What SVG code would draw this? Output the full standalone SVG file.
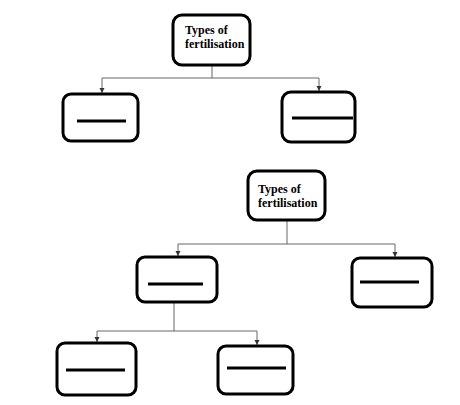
<svg xmlns="http://www.w3.org/2000/svg" width="460" height="405" viewBox="0 0 460 405">
<defs>
<style>
.box{fill:#fff;stroke:#000;stroke-width:3;}
.bar{stroke:#000;stroke-width:3;stroke-linecap:butt;}
.lbl{font-family:"Liberation Serif","Times New Roman",serif;font-weight:bold;font-size:12px;fill:#000;}
.con{fill:none;stroke:#666;stroke-width:1;}
</style>
<marker id="ah" markerWidth="6" markerHeight="6" refX="5" refY="3" orient="auto" markerUnits="userSpaceOnUse">
<path d="M0,0.5 L5,3 L0,5.5 z" fill="#333"/>
</marker>
</defs>
<rect width="460" height="405" fill="#fff"/>
<g id="connectors">
<path class="con" d="M212,65 V78"/>
<path class="con" d="M102,78 H319"/>
<path class="con" d="M102,78 V93" marker-end="url(#ah)"/>
<path class="con" d="M319,78 V91" marker-end="url(#ah)"/>
<path class="con" d="M287,220 V244"/>
<path class="con" d="M178,244 H395"/>
<path class="con" d="M178,244 V256" marker-end="url(#ah)"/>
<path class="con" d="M395,244 V257" marker-end="url(#ah)"/>
<path class="con" d="M174,302 V331"/>
<path class="con" d="M97,331 H257"/>
<path class="con" d="M97,331 V342" marker-end="url(#ah)"/>
<path class="con" d="M257,331 V345" marker-end="url(#ah)"/>
</g>
<g id="root1">
<rect class="box" x="173" y="15" width="77" height="50" rx="9"/>
<text class="lbl" x="185" y="34">Types of</text>
<text class="lbl" x="185" y="48">fertilisation</text>
</g>
<g id="node1a">
<rect class="box" x="63" y="94" width="75" height="47" rx="8"/>
<line class="bar" x1="77" y1="121" x2="126" y2="121"/>
</g>
<g id="node1b">
<rect class="box" x="282" y="92" width="73" height="50" rx="9"/>
<line class="bar" x1="292" y1="118" x2="353" y2="118"/>
</g>
<g id="root2">
<rect class="box" x="248" y="171" width="77" height="49" rx="9"/>
<text class="lbl" x="258" y="193">Types of</text>
<text class="lbl" x="258" y="207">fertilisation</text>
</g>
<g id="node2a">
<rect class="box" x="137" y="257" width="80" height="45" rx="8"/>
<line class="bar" x1="148" y1="284" x2="203" y2="284"/>
</g>
<g id="node2b">
<rect class="box" x="352" y="258" width="80" height="49" rx="8"/>
<line class="bar" x1="360" y1="282" x2="419" y2="282"/>
</g>
<g id="node3a">
<rect class="box" x="57" y="343" width="79" height="52" rx="8"/>
<line class="bar" x1="66" y1="370" x2="125" y2="370"/>
</g>
<g id="node3b">
<rect class="box" x="218" y="346" width="75" height="48" rx="8"/>
<line class="bar" x1="227" y1="368" x2="286" y2="368"/>
</g>
</svg>
